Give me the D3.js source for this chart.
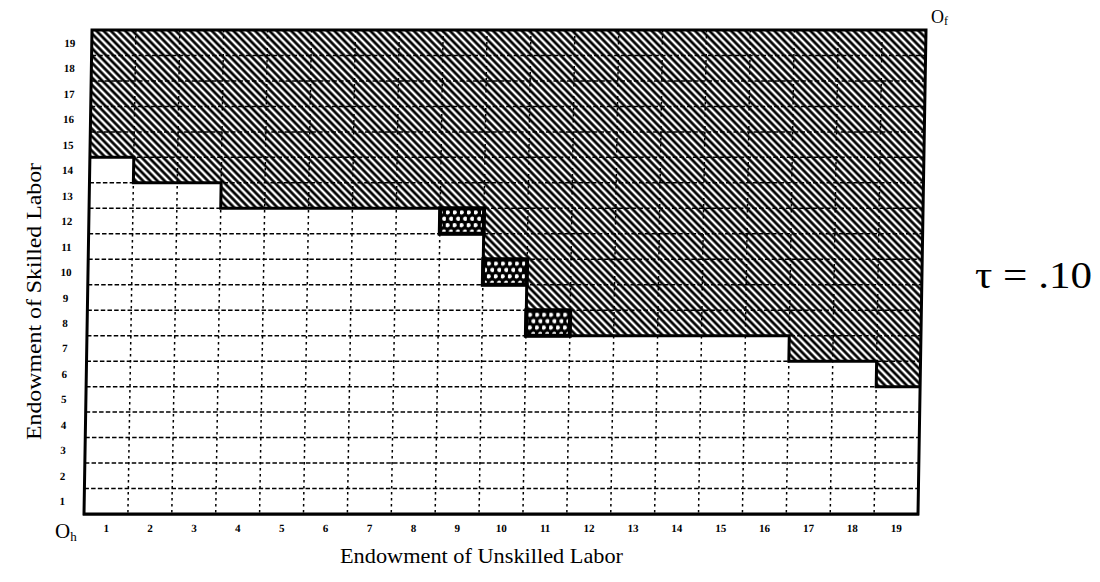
<!DOCTYPE html>
<html>
<head>
<meta charset="utf-8">
<script src="https://cdn.jsdelivr.net/npm/d3@7"></script>
<style>
  body { margin: 0; background: #fff; }
  svg { display: block; }
  text { font-family: "Liberation Serif", "Times New Roman", serif; fill: #000; }
</style>
</head>
<body>
<svg id="chart" width="1100" height="582"></svg>
<script>
// unskilled labor endowment (columns) and skilled labor endowment (rows)
const columns = d3.range(1, 20);
const rows = d3.range(1, 20);
// highest skilled-labor row that is still in the unshaded region, per column
const whiteTop = [14, 13, 13, 12, 12, 12, 12, 12, 11, 9, 7, 7, 7, 7, 7, 7, 6, 6, 5];
// cells with the dotted (cross) pattern: [column, row]
const crossCells = [[9, 12], [10, 10], [11, 8]];

const svg = d3.select("#chart");
const W = 834, H = 484;
// the scanned figure leans slightly: top edge sits ~8px right of the bottom
const lean = Math.atan(-8 / H) * 180 / Math.PI;

const defs = svg.append("defs");
const hatch = defs.append("pattern")
  .attr("id", "hatch")
  .attr("patternUnits", "userSpaceOnUse")
  .attr("width", 5.1).attr("height", 5.1)
  .attr("patternTransform", "rotate(-45)");
hatch.append("rect").attr("width", 5.1).attr("height", 5.1).attr("fill", "#fff");
hatch.append("line")
  .attr("x1", 2.55).attr("y1", 0).attr("x2", 2.55).attr("y2", 5.1)
  .attr("stroke", "#000").attr("stroke-width", 2.7);

const dots = defs.append("pattern")
  .attr("id", "dots")
  .attr("patternUnits", "userSpaceOnUse")
  .attr("width", 7).attr("height", 12.8);
dots.append("rect").attr("width", 7).attr("height", 12.8).attr("fill", "#000");
dots.append("circle").attr("cx", 1.75).attr("cy", 3.2).attr("r", 2.1).attr("fill", "#fff");
dots.append("circle").attr("cx", 5.25).attr("cy", 9.6).attr("r", 2.1).attr("fill", "#fff");

const x = d3.scaleLinear().domain([0.5, 19.5]).range([0, W]);
const y = d3.scaleLinear().domain([0.5, 19.5]).range([H, 0]);
const colW = x(1.5) - x(0.5);
const rowH = y(0.5) - y(1.5);

const plot = svg.append("g")
  .attr("transform", `translate(92,30) skewX(${lean})`);

// hatched region fills everything, white staircase goes on top
plot.append("rect")
  .attr("width", W).attr("height", H)
  .attr("fill", "url(#hatch)");

const stairs = [];
whiteTop.forEach((t, i) => {
  stairs.push([x(columns[i] - 0.5), y(t + 0.5)]);
  stairs.push([x(columns[i] + 0.5), y(t + 0.5)]);
});

plot.append("path")
  .attr("d", d3.line()([[x(0.5), y(0.5)], ...stairs, [x(19.5), y(0.5)]]) + "Z")
  .attr("fill", "#fff");

// dashed grid
plot.append("g").selectAll("line")
  .data(columns.slice(0, -1))
  .join("line")
  .attr("x1", d => x(d + 0.5)).attr("x2", d => x(d + 0.5))
  .attr("y1", 0).attr("y2", H)
  .attr("stroke", "#000").attr("stroke-width", 1.5)
  .attr("stroke-dasharray", "2.5,3.5");

plot.append("g").selectAll("line")
  .data(rows.slice(0, -1))
  .join("line")
  .attr("y1", d => y(d + 0.5)).attr("y2", d => y(d + 0.5))
  .attr("x1", 0).attr("x2", W)
  .attr("stroke", "#000").attr("stroke-width", 1.5)
  .attr("stroke-dasharray", "4.5,2.2");

// dotted cells
plot.append("g").selectAll("rect")
  .data(crossCells)
  .join("rect")
  .attr("x", d => x(d[0] - 0.5)).attr("y", d => y(d[1] + 0.5))
  .attr("width", colW).attr("height", rowH)
  .attr("fill", "url(#dots)")
  .attr("stroke", "#000").attr("stroke-width", 4);

// thick boundary of the white region
plot.append("path")
  .attr("d", d3.line()([[0, stairs[0][1]], ...stairs, [W, stairs[stairs.length - 1][1]]]))
  .attr("fill", "none")
  .attr("stroke", "#000").attr("stroke-width", 3);

// frame
plot.append("rect")
  .attr("width", W).attr("height", H)
  .attr("fill", "none")
  .attr("stroke", "#000").attr("stroke-width", 3);
plot.append("line")
  .attr("x1", -1).attr("x2", W + 1).attr("y1", H + 0.5).attr("y2", H + 0.5)
  .attr("stroke", "#000").attr("stroke-width", 2);

// axes
const xAxis = plot.append("g")
  .attr("transform", `translate(0,${H})`)
  .call(d3.axisBottom(x).tickValues(columns).tickSize(0).tickPadding(0));
xAxis.select(".domain").remove();
xAxis.selectAll("text")
  .attr("y", 18).attr("dy", 0)
  .style("font-size", "11px").style("font-weight", "bold")
  .style("font-family", "Liberation Serif");

const yAxis = plot.append("g")
  .call(d3.axisLeft(y).tickValues(rows).tickSize(0).tickPadding(0));
yAxis.select(".domain").remove();
yAxis.selectAll("text")
  .attr("x", -22).attr("text-anchor", "middle")
  .style("font-size", "11px").style("font-weight", "bold")
  .style("font-family", "Liberation Serif");

// origins
const oh = svg.append("text").attr("x", 55).attr("y", 538).style("font-size", "21px");
oh.append("tspan").text("O");
oh.append("tspan").attr("dy", 3).style("font-size", "13px").text("h");

const of = svg.append("text").attr("x", 931).attr("y", 23).style("font-size", "18px");
of.append("tspan").text("O");
of.append("tspan").attr("dy", 2).style("font-size", "12px").text("f");

// titles
svg.append("text")
  .attr("x", 340).attr("y", 563)
  .attr("textLength", 283).attr("lengthAdjust", "spacingAndGlyphs")
  .style("font-size", "21px")
  .text("Endowment of Unskilled Labor");

svg.append("text")
  .attr("transform", "translate(41,440) rotate(-90)")
  .attr("textLength", 277).attr("lengthAdjust", "spacingAndGlyphs")
  .style("font-size", "21px")
  .text("Endowment of Skilled Labor");

svg.append("text")
  .attr("x", 975).attr("y", 288)
  .attr("textLength", 117).attr("lengthAdjust", "spacingAndGlyphs")
  .style("font-size", "38px")
  .text("τ = .10");
</script>
</body>
</html>
